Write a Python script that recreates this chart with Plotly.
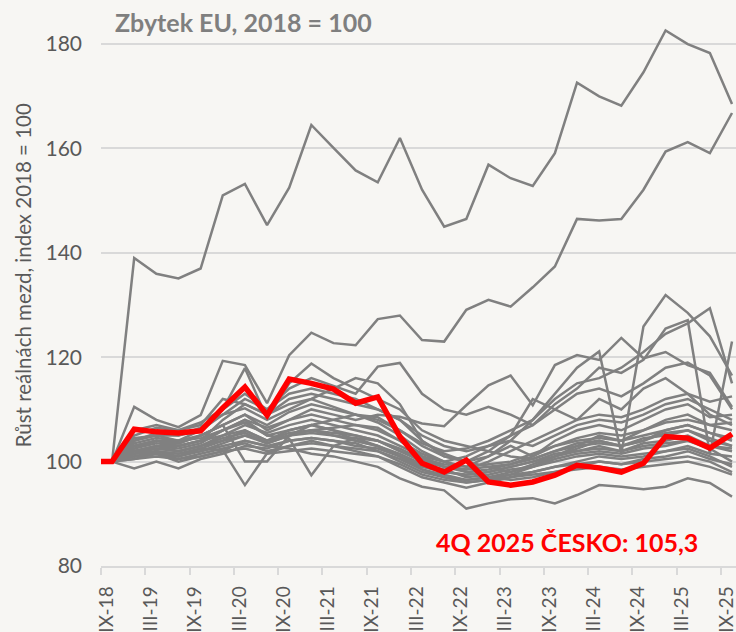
import plotly.graph_objects as go

# ---- data -------------------------------------------------------------
# 29 points: 2018 base (=100) followed by quarters 1Q2019 ... 4Q2025
periods = ["2018"] + [f"{q}Q{y}" for y in range(2019, 2026) for q in range(1, 5)]

tick_labels = ["IX-18", "III-19", "IX-19", "III-20", "IX-20", "III-21", "IX-21",
               "III-22", "IX-22", "III-23", "IX-23", "III-24", "IX-24", "III-25", "IX-25"]

czech = [100, 106.2, 105.7, 105.5, 105.9, 110.3, 114.3, 108.9, 115.8, 115.0, 113.9, 111.2,
         112.4, 104.8, 99.7, 98.0, 100.3, 96.1, 95.5, 96.1, 97.4, 99.3, 98.8, 98.0, 99.7,
         104.8, 104.5, 102.6, 105.3]

other_eu = {
    "A": [100, 139.0, 136.0, 135.1, 137.0, 151.0, 153.2, 145.3, 152.5, 164.5, 160.1, 155.8, 153.5,
          162.0, 152.1, 145.0, 146.5, 156.9, 154.3, 152.8, 159.1, 172.6, 170.0, 168.2, 174.6, 182.6,
          180.0, 178.3, 168.5],
    "B": [100, 110.5, 108.0, 106.6, 108.9, 119.3, 118.5, 111.2, 120.4, 124.7, 122.7, 122.3, 127.3,
          128.0, 123.3, 123.0, 129.1, 131.0, 129.7, 133.4, 137.4, 146.5, 146.2, 146.5, 152.1, 159.4,
          161.2, 159.1, 166.8],
    "C": [100, 104.5, 105, 104, 106, 110, 117.9, 108.3, 115, 118.8, 116, 114, 112, 110, 106, 104, 103,
          102, 101, 100.5, 102, 103.5, 104, 103, 104.5, 105, 106, 104, 103],
    "D": [100, 103, 104, 103.5, 105, 107, 109, 106, 108, 110, 109, 108, 109, 108.6, 107.3, 106.8,
          110.8, 114.6, 116.5, 110.8, 118.5, 120.4, 119.5, 123.7, 119.8, 121, 118.5, 117, 110.5],
    "E": [100, 102, 103, 102, 103, 104, 106, 104, 106, 107, 106, 105, 104, 102, 100.5, 99.5, 99, 101,
          104, 108, 113, 118, 121.1, 101.5, 125.9, 131.9, 128.5, 124, 116.5],
    "F": [100, 101.5, 102.5, 102, 103, 105, 107, 105.5, 107, 108, 107, 106, 105, 103, 101, 100, 101,
          103, 105, 107, 111, 114, 118, 117, 119.5, 125.5, 127.1, 101.5, 123.0],
    "G": [100, 103, 104, 104, 105, 107, 109, 107, 109.5, 111, 110, 109, 108, 106, 103.5, 102, 102.5,
          104, 106, 108, 112, 115, 116, 118, 121, 124.5, 126.5, 129.4, 115.0],
    "H": [100, 101.5, 102, 101, 102.5, 102.2, 95.5, 101.6, 103, 104, 103, 102, 101, 99, 97, 96, 95,
          96, 97, 98, 99, 100, 101, 100.5, 101, 102, 102.5, 101, 99],
    "I": [100, 103, 104, 103.5, 105, 107, 100, 100, 105, 107, 106, 104, 103, 101, 99, 98, 97.5, 98,
          99, 100, 101, 102, 103, 102, 103.5, 104, 105, 103, 102],
    "J": [100, 102, 103, 102.5, 103.5, 106, 108, 105, 104.4, 97.4, 103, 104.5, 103, 101, 98.5, 97,
          96.5, 97, 98, 99.5, 101, 102.5, 104, 103, 104, 106, 107, 105.5, 104],
    "K": [100, 98.7, 100, 98.7, 100.5, 101.5, 103, 102.5, 104, 104.5, 104, 103.5, 102, 100, 98, 97,
          96, 96.5, 97.5, 99, 100.5, 101.5, 102, 101.5, 102.5, 103, 104, 102.5, 100],
    "L": [100, 100.5, 101.5, 100, 101, 102, 104, 103, 102.5, 101.5, 101, 100, 99, 96.8, 95.2, 94.5,
          91.0, 92.0, 92.8, 93.0, 92.0, 93.6, 95.5, 95.2, 94.7, 95.2, 96.8, 95.9, 93.3],
    "M": [100, 104, 105, 105, 106, 109, 110.2, 108, 110, 112, 110.5, 109, 108.5, 106, 103, 101, 100,
          99, 98, 99, 101, 103, 105, 104, 106, 108, 109, 107, 106],
    "N": [100, 102.5, 103.5, 103, 104, 105, 106, 104, 105.5, 106, 105, 104.5, 104, 102, 100, 99,
          98.5, 99, 99.5, 100.5, 102, 103, 103.5, 103, 104, 105.5, 106, 104.5, 103],
    "O": [100, 101, 101.5, 101, 102, 103, 104, 103, 104, 104.5, 104, 103, 102.5, 101, 99.5, 98.5, 97,
          97.5, 98.5, 99, 100, 101, 101.5, 101, 101.5, 102, 103, 101.5, 101],
    "P": [100, 105, 106.5, 106, 107.5, 110, 113, 110, 114, 116, 114.5, 113, 118.2, 118.9, 113, 110,
          109, 110.5, 109, 107, 110, 113, 114, 112.5, 115, 118, 119, 116.5, 110],
    "Q": [100, 101.5, 102, 101.5, 102.5, 104, 105, 103.5, 105, 106, 106.5, 107, 106.5, 104, 101, 99,
          98, 98.5, 99.5, 101, 103, 104, 104.5, 104, 105, 106, 107, 105.5, 104.5],
    "R": [100, 101, 102, 101.5, 102, 103.5, 105, 104, 105, 106, 105.5, 105, 104, 102.5, 100.5, 99,
          98.5, 100, 102, 104, 106, 108, 109, 108.5, 110, 112, 113, 111.5, 112.5],
    "S": [100, 102, 102.5, 102, 103, 104.5, 105.5, 103.5, 105, 105.5, 105, 104, 103, 101.5, 99.5, 98,
          97.5, 98, 99, 100, 101.5, 102, 102.5, 102, 103, 103.5, 104, 103, 102.5],
    "T": [100, 103.5, 104.5, 104, 104.5, 106, 108, 106.5, 108, 109, 108, 107, 106, 104, 101.5, 100,
          99, 99.5, 100, 101.5, 103, 104.5, 105.5, 105, 106, 107.5, 108, 107, 107.5],
    "U": [100, 101, 101.5, 100.5, 101.5, 102.5, 103.5, 102, 103, 103.5, 103, 102.5, 102, 100.5, 98.5,
          97.5, 96.5, 97, 97.5, 98, 99, 99.5, 100, 99.5, 100, 100.5, 101, 100, 98],
    "V": [100, 102, 103, 103, 104, 108, 111, 109, 112, 113, 112, 111, 110, 108, 105, 103, 102, 103,
          104, 103, 105, 107, 108, 107.5, 109, 111, 112, 110, 108],
    "W": [100, 104, 105.5, 105, 106.5, 109, 112, 110, 113, 114, 113, 112, 110, 108, 104, 101.5, 100,
          101, 103, 101, 104, 106, 107, 106, 108, 110, 111, 108.5, 109],
    "X": [100, 100.5, 101, 100.5, 101, 102, 102.5, 101.5, 102, 102.5, 102, 101.5, 101, 99.5, 97.5,
          96.5, 96, 96.5, 97, 97.5, 98, 98.5, 99, 98.5, 99, 99.5, 100, 99, 97.5],
    "Y": [100, 106, 107, 106, 107, 112, 111, 109, 111, 112, 114, 116, 115, 111, 104, 101, 100, 102,
          105, 112, 110, 108, 112, 110, 114, 116, 113, 109, 107],
    "Z": [100, 102.5, 104, 103, 104, 106, 107.5, 105, 106, 107, 108, 109, 107.5, 105, 102, 100, 98,
          97, 96.5, 97, 98, 99, 100, 99.5, 100.5, 101, 102, 100.5, 99.5],
}

title_text = "Zbytek EU, 2018 = 100"
yaxis_title = "Růst reálnách mezd, index 2018 = 100"
note_text = "4Q 2025 ČESKO: 105,3"

# ---- figure -----------------------------------------------------------
x_idx = list(range(len(periods)))
FONT = "Lato, 'Open Sans', sans-serif"
BG = "#f7f6f3"

fig = go.Figure()
for name, vals in other_eu.items():
    fig.add_trace(go.Scatter(x=x_idx, y=vals, mode="lines", name=name,
                             line=dict(color="#808080", width=2.5),
                             hoverinfo="skip", showlegend=False))

cz_x = [x_idx[0] - 0.5] + x_idx
cz_y = [czech[0]] + czech
fig.add_trace(go.Scatter(x=cz_x, y=cz_y, mode="lines", name="Česko",
                         line=dict(color="#ff0000", width=5.5),
                         showlegend=False))

tick_pos = [2 * k - 0.25 for k in range(len(tick_labels))]
minor_pos = [2 * k - 0.5 for k in range(len(tick_labels))]

fig.update_layout(
    width=736, height=632,
    margin=dict(l=101, r=0, t=18, b=66),
    paper_bgcolor=BG, plot_bgcolor=BG,
    font=dict(family=FONT, color="#595959"),
    showlegend=False,
    xaxis=dict(
        range=[-0.5, 28.18],
        tickmode="array", tickvals=tick_pos, ticktext=tick_labels,
        tickangle=-90, ticks="", ticklabelstandoff=11, ticklabeloverflow="allow",
        tickfont=dict(size=19, color="#595959", family=FONT),
        showgrid=False, zeroline=False, automargin=False,
        showline=True, linecolor="#d9d9d9", linewidth=1.5,
        minor=dict(tickmode="array", tickvals=minor_pos, ticks="outside",
                   ticklen=7, tickwidth=1.5, tickcolor="#d9d9d9", showgrid=False),
    ),
    yaxis=dict(
        range=[80, 185], tickmode="array", tickvals=[80, 100, 120, 140, 160, 180],
        ticks="", ticklabelstandoff=18, automargin=False,
        tickfont=dict(size=21, color="#595959", family=FONT),
        showgrid=True, gridcolor="#d9d9d9", gridwidth=1.5,
        zeroline=False, showline=False,
    ),
    annotations=[
        dict(text=title_text, xref="paper", yref="paper", x=0.019, y=0.993,
             xanchor="left", yanchor="middle", showarrow=False,
             font=dict(size=25, color="#7f7f7f", family=FONT, weight="bold")),
        dict(text=note_text, xref="paper", yref="paper", x=0.943, y=0.044,
             xanchor="right", yanchor="middle", showarrow=False,
             font=dict(size=25, color="#ff0000", family=FONT, weight="bold")),
        dict(text=yaxis_title, xref="paper", yref="paper", x=-0.1228, y=0.5307,
             xanchor="center", yanchor="middle", textangle=-90, showarrow=False,
             font=dict(size=20.5, color="#595959", family=FONT)),
    ],
)

fig.write_html("out.html", config={"displayModeBar": False})

# remove the browser's default page margin so the figure sits at the window's corner
with open("out.html", "r", encoding="utf-8") as fh:
    html = fh.read()
html = html.replace("<head>", "<head><style>html,body{margin:0;padding:0;overflow:hidden;}</style>", 1)
with open("out.html", "w", encoding="utf-8") as fh:
    fh.write(html)
